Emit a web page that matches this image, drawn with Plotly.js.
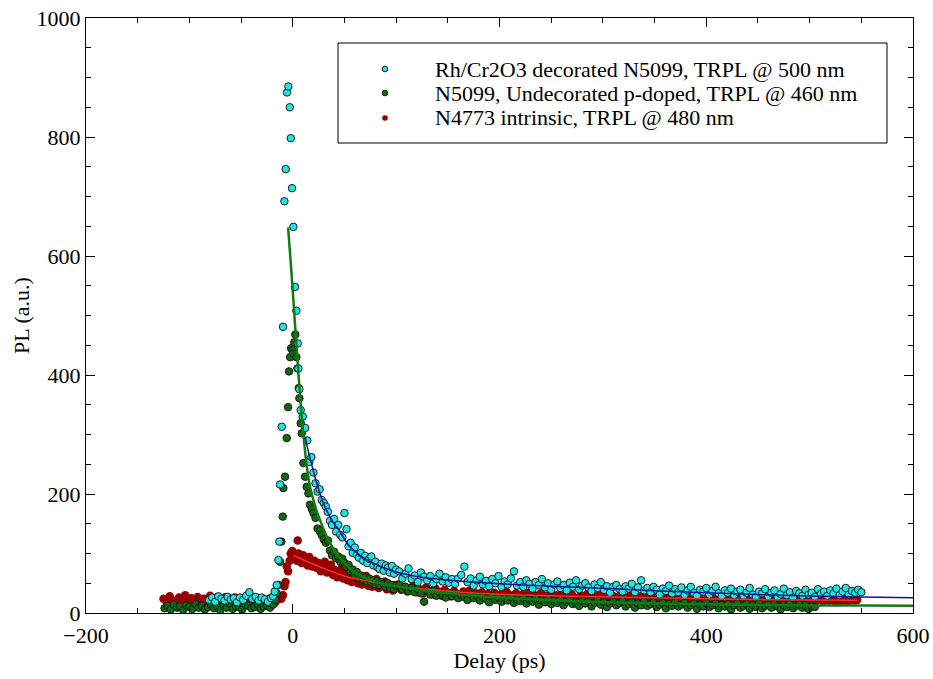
<!DOCTYPE html>
<html><head><meta charset="utf-8">
<script src="https://cdn.plot.ly/plotly-3.0.1.min.js"></script>
<style>html,body{margin:0;padding:0;background:#fff}#chart{width:933px;height:679px}</style>
</head><body><div id="chart"></div>
<script>
// Legend labels
const LABELS = [
  'Rh/Cr2O3 decorated N5099, TRPL @ 500 nm',
  'N5099, Undecorated p-doped, TRPL @ 460 nm',
  'N4773 intrinsic, TRPL @ 480 nm'
];

// Rh/Cr2O3 decorated N5099 (cyan) : [delay ps, PL]
const CYAN_PTS = [
[-81,22],[-78,26],[-75,19],[-72,28],[-69,24],[-66,21],[-63,27],[-60,23],[-57,25],[-54,18],[-51,26],[-48,22],[-45,29],[-42,35],[-39,24],[-36,27],[-33,21],[-30,26],[-27,23],[-24,19],[-21,25],
[-19,28],[-17.5,36],[-15.5,47],[-13.9,89],[-13,120],[-12.3,216],[-10.6,313],[-9.4,481],[-8.1,692],[-6.8,746],[-5.5,875],[-4.3,885],[-2.9,850],[-1.9,798],[-0.7,714],[0.6,649],[2.2,548],[3.5,508],[4.8,453],[5.4,411],[6.4,376],[7.7,341],[9.7,330],
[12,311],[14,290],[16,254],[18,262],[20,236],[22,218],[24,204],[26,208],[28,190],[30,185],[32,179],[34,170],[36,155],[38,148],[40,158],[42,137],[44,148],[46,131],[48,127],[50,168],[52,141],[54,112],[56,118],[58,101],[60,110],[62,98],[64,93],[66,101],[68,88],[70,96],[72,84],[74,91],[76,95],[78,80],[80,86],[82,77],[84,74],[86,83],[88,71],[90,80],[92,76],[94,68],[96,79],[98,66],[100,73],
[103,70],[106,58],[109,66],[112,75],[115,57],[118,63],[121,52],[124,68],[127,61],[130,55],
[133,62],[136,50],[139,57],[142,66],[145,53],[148,60],[151,51],[154,57],[157,49],[160,58],
[163,64],[166,78],[169,52],[172,58],[175,46],[178,55],[181,61],[184,48],[187,54],[190,45],
[193,57],[196,50],[199,62],[202,44],[205,53],[208,48],[211,58],[214,70],[217,46],[220,52],
[223,44],[226,55],[229,49],[232,41],[235,52],[238,47],[241,57],[244,43],[247,50],[250,39],
[253,48],[256,53],[259,42],[262,47],[265,38],[268,51],[271,44],[274,55],[277,40],[280,46],
[283,50],[286,43],[289,37],[292,48],[295,42],[298,52],[301,39],[304,45],[307,34],[310,44],
[313,47],[316,40],[319,36],[322,45],[325,41],[328,49],[331,35],[334,43],[337,55],[340,38],
[343,42],[346,35],[349,44],[352,39],[355,31],[358,41],[361,37],[364,46],[367,33],[370,40],
[373,35],[376,43],[379,30],[382,38],[385,44],[388,34],[391,29],[394,39],[397,36],[400,42],
[403,31],[406,37],[409,44],[412,33],[415,28],[418,38],[421,34],[424,41],[427,30],[430,36],
[433,39],[436,29],[439,34],[442,42],[445,31],[448,27],[451,36],[454,33],[457,40],[460,28],
[463,34],[466,38],[469,27],[472,32],[475,41],[478,30],[481,35],[484,26],[487,37],[490,33],
[493,29],[496,39],[499,31],[502,34],[505,27],[508,40],[511,32],[514,36],[517,29],[520,38],
[523,33],[526,41],[529,30],[532,36],[535,42],[538,31],[541,37],[544,34],[547,39],[550,35]
];

// N5099 undecorated p-doped (green)
const GREEN_PTS = [
[-124,8],[-121,12],[-118,6],[-115,14],[-112,9],[-109,11],[-106,5],[-103,13],[-100,10],[-97,7],[-94,15],[-91,9],[-88,12],[-85,6],[-82,10],[-79,14],[-76,8],[-73,11],[-70,5],[-67,13],[-64,9],[-61,16],[-58,7],[-55,11],[-52,10],[-49,6],[-46,14],[-43,12],[-40,8],[-37,10],[-34,15],[-31,7],[-28,11],[-25,13],[-22,9],[-19,14],
[-17,22],[-15.5,33],[-13.9,47],[-12.3,86],[-11,120],[-9.7,162],[-9.1,210],[-7.5,229],[-5.8,294],[-4.5,346],[-3.6,406],[-2.5,430],[-1.6,445],[-0.4,442],[0.6,436],[1.5,455],[2.5,468],[3.5,430],[4.5,411],[5.8,378],[6.4,361],[7.7,319],[8.7,302],[10.3,252],[11.9,229],[13.5,212],[15.1,201],[16.7,182],[18.4,175],
[20,168],[22,160],[24,142],[26,138],[28,131],[30,124],[32,118],[34,122],[36,105],[38,97],[40,103],[42,92],[44,95],[46,86],[48,91],[50,84],[52,78],[54,81],[56,70],[58,73],[60,64],[62,69],[64,59],[66,63],[68,56],[70,60],[72,53],[74,58],[76,51],[78,55],[80,48],[82,54],[84,47],[86,52],[88,49],[90,44],[92,50],[94,42],[96,47],[98,40],[100,46],
[103,47],[106,40],[109,44],[112,37],[115,42],[118,35],[121,40],[124,33],[127,19],[130,38],
[133,31],[136,37],[139,29],[142,35],[145,30],[148,26],[151,34],[154,28],[157,32],[160,25],
[163,30],[166,27],[169,22],[172,31],[175,25],[178,29],[181,21],[184,27],[187,24],[190,18],
[193,28],[196,22],[199,26],[202,19],[205,25],[208,21],[211,27],[214,17],[217,23],[220,20],
[223,25],[226,16],[229,22],[232,19],[235,24],[238,14],[241,21],[244,18],[247,23],[250,15],
[253,20],[256,17],[259,22],[262,13],[265,19],[268,21],[271,15],[274,18],[277,12],[280,20],
[283,16],[286,19],[289,11],[292,17],[295,21],[298,14],[301,18],[304,10],[307,16],[310,19],
[313,13],[316,17],[319,20],[322,11],[325,15],[328,18],[331,9],[334,16],[337,13],[340,19],
[343,12],[346,15],[349,18],[352,10],[355,14],[358,17],[361,8],[364,15],[367,12],[370,18],
[373,11],[376,14],[379,17],[382,9],[385,13],[388,16],[391,7],[394,14],[397,11],[400,17],
[403,10],[406,13],[409,16],[412,8],[415,14],[418,11],[421,15],[424,6],[427,13],[430,16],
[433,9],[436,12],[439,15],[442,7],[445,13],[448,10],[451,16],[454,8],[457,12],[460,14],
[463,9],[466,15],[469,11],[472,6],[475,13],[478,10],[481,15],[484,8],[487,12],[490,14],
[493,9],[496,13],[499,7],[502,11],[505,10]
];

// N4773 intrinsic (dark red)
const RED_PTS = [
[-125,24],[-122,19],[-119,28],[-116,21],[-113,17],[-110,26],[-107,23],[-104,30],[-101,18],[-98,25],[-95,21],[-92,27],[-89,16],[-86,24],[-83,20],[-80,29],[-77,22],[-74,18],[-71,25],[-68,21],[-65,27],[-62,19],[-59,23],[-56,26],[-53,17],[-50,24],[-47,21],[-44,28],[-41,20],[-38,23],[-35,18],[-32,25],[-29,22],[-26,19],[-23,24],[-20,21],[-17,18],[-14,23],
[-11,24],[-9.5,30],[-8,45],[-7,52],[-5.8,78],[-4.5,70],[-3,88],[-2,100],[-0.5,104],[1,92],[2.5,98],[4,88],[4.8,122],[5.5,100],[7,93],[8.5,84],[10,97],[11.5,86],[13,91],[14.5,80],[16,94],[17.5,83],[19,78],
[21,88],[23,76],[25,84],[27,70],[29,79],[31,86],[33,68],[35,75],[37,81],[39,64],[41,72],[43,60],[45,69],[47,74],[49,58],[51,66],[53,55],[55,63],[57,52],[59,61],[61,67],[63,50],[65,58],[67,48],[69,56],[71,62],[73,46],[75,54],[77,44],[79,52],[81,57],[83,42],[85,50],[87,45],[89,53],[91,40],[93,48],[95,43],[97,38],[99,47],
[102,48],[105,39],[108,44],[111,36],[114,42],[117,47],[120,35],[123,40],[126,33],[129,43],
[132,37],[135,31],[138,41],[141,35],[144,29],[147,39],[150,34],[153,28],[156,37],[159,32],
[162,27],[165,36],[168,31],[171,38],[174,26],[177,33],[180,29],[183,35],[186,25],[189,32],
[192,28],[195,34],[198,24],[201,31],[204,27],[207,35],[210,25],[213,30],[216,33],[219,24],
[222,31],[225,27],[228,34],[231,23],[234,30],[237,26],[240,33],[243,24],[246,29],[249,32],
[252,25],[255,30],[258,23],[261,33],[264,27],[267,24],[270,31],[273,26],[276,22],[279,30],
[282,27],[285,32],[288,23],[291,29],[294,25],[297,31],[300,22],[303,28],[306,26],[309,30],
[312,21],[315,27],[318,29],[321,23],[324,26],[327,30],[330,21],[333,25],[336,28],[339,22],
[342,27],[345,24],[348,29],[351,20],[354,26],[357,23],[360,28],[363,21],[366,25],[369,27],
[372,20],[375,26],[378,23],[381,28],[384,19],[387,25],[390,22],[393,27],[396,20],[399,24],
[402,26],[405,19],[408,24],[411,21],[414,27],[417,18],[420,23],[423,25],[426,20],[429,26],
[432,21],[435,24],[438,18],[441,25],[444,22],[447,19],[450,26],[453,21],[456,23],[459,18],
[462,24],[465,21],[468,26],[471,19],[474,23],[477,20],[480,25],[483,18],[486,22],[489,24],
[492,19],[495,23],[498,21],[501,26],[504,18],[507,22],[510,24],[513,19],[516,23],[519,21],
[522,25],[525,18],[528,22],[531,20],[534,24],[537,19],[540,23],[543,21],[546,22]
];

// Fit curves
const BLUE_FIT_X = [12,15,18,21,25,30,35,40,45,50,55,60,65,70,80,90,100,110,120,135,150,175,200,250,300,350,400,450,500,550,600];
const BLUE_FIT_Y = [296,272,252,232,208,183,165,150,139,124,112,104,97,91,82,75,69,65,61.5,58,55.5,52,49,45,41.5,37.5,34,31,28.5,27,25.8];
const GREEN_FIT_X = [-4.5,-2,0.6,2.2,3.9,6,8.7,10.3,13.5,16.7,20,23,26.4,30,33,39.3,46,55.4,63,71.6,85,104,125,152,200,250,300,350,400,450,505,550,600];
const GREEN_FIT_Y = [648,590,526,485,445,390,330,300,248,212,190,172,156,140,128,108,92,74,64,58,50,44,38,33,26,21.5,18,16,14.5,13.5,12.8,12.5,12.3];
const RED_FIT_X = [0.6,4,7,12,20,30,39,52,62,72,85,104,117,142,175,214,250,290,350,400,449,500,546];
const RED_FIT_Y = [97,94,92,88,82,75,69,61,57.5,54,49.5,44,41.5,38,33.5,30.5,29,27.5,25.5,24,22.5,22,21.5];

const X_TICKS = [-200,0,200,400,600];
const Y_TICKS = [0,200,400,600,800,1000];

const FONT = 'Liberation Serif, Times New Roman, Times, serif';
const COL = {cyan:'#1ee6e6', green:'#0f6b0f', red:'#960000', outline:'#1a1a1a',
             blueLine:'#1414a0', greenLine:'#147a14', redLine:'#ff2a2a'};

const xs = p => p.map(d => d[0]);
const ys = p => p.map(d => d[1]);

const traces = [
  {type:'scatter', mode:'markers', name:LABELS[2], x:xs(RED_PTS), y:ys(RED_PTS),
   marker:{color:COL.red, size:8.5, line:{width:0}}},
  {type:'scatter', mode:'markers', name:LABELS[1], x:xs(GREEN_PTS), y:ys(GREEN_PTS),
   marker:{color:COL.green, size:7.5, line:{width:1, color:COL.outline}}},
  {type:'scatter', mode:'markers', name:LABELS[0], x:xs(CYAN_PTS), y:ys(CYAN_PTS),
   marker:{color:COL.cyan, size:7.5, line:{width:1, color:COL.outline}}},
  {type:'scatter', mode:'lines', x:RED_FIT_X, y:RED_FIT_Y, line:{color:COL.redLine, width:1.5, shape:'spline'}},
  {type:'scatter', mode:'lines', x:GREEN_FIT_X, y:GREEN_FIT_Y, line:{color:COL.greenLine, width:2.5, shape:'spline'}},
  {type:'scatter', mode:'lines', x:BLUE_FIT_X, y:BLUE_FIT_Y, line:{color:COL.blueLine, width:1.5, shape:'spline'}}
];

// legend geometry in plot pixels -> paper coords
const PL = 86, PW = 827, PT = 18, PH = 595;
const px2x = p => (p - PL) / PW;
const py2y = p => (PT + PH - p) / PH;
const rowsY = [69, 93, 118];
const markerX = 385, textX = 433;
const legendColors = [COL.cyan, COL.green, COL.red];

const shapes = [{type:'rect', xref:'paper', yref:'paper', x0:px2x(338), x1:px2x(887), y0:py2y(143), y1:py2y(43),
  line:{color:'#000', width:1}, fillcolor:'#fff', layer:'above'}];
const annotations = [];
LABELS.forEach((t, i) => {
  shapes.push({type:'circle', xref:'paper', yref:'paper', xsizemode:'pixel', ysizemode:'pixel',
    xanchor:px2x(markerX), yanchor:py2y(rowsY[i]), x0:-2.8, x1:2.8, y0:-2.8, y1:2.8,
    fillcolor:legendColors[i], line:{color: i===2 ? legendColors[i] : COL.outline, width: i===2 ? 0 : 1}, layer:'above'});
  annotations.push({xref:'paper', yref:'paper', x:px2x(textX), y:py2y(rowsY[i]), xanchor:'left', yanchor:'middle',
    text:t, showarrow:false, font:{family:FONT, size:22, color:'#000'}});
});

const axisCommon = {ticks:'inside', ticklen:9, tickwidth:1, tickcolor:'#000', showline:true, linecolor:'#000', linewidth:1,
  mirror:'ticks', showgrid:false, zeroline:false, tickfont:{family:FONT, size:22, color:'#000'},
  minor:{dtick:50, ticks:'inside', ticklen:5, tickwidth:1, tickcolor:'#000', showgrid:false}};

const layout = {
  width:933, height:679, margin:{l:PL, r:933-PL-PW, t:PT, b:679-PT-PH},
  paper_bgcolor:'#fff', plot_bgcolor:'#fff', showlegend:false,
  font:{family:FONT, size:22, color:'#000'},
  xaxis:Object.assign({}, axisCommon, {range:[-200,600], tickvals:X_TICKS, ticklabelstandoff:3,
    title:{text:'Delay (ps)', standoff:4, font:{family:FONT, size:22, color:'#000'}}}),
  yaxis:Object.assign({}, axisCommon, {range:[0,1000], tickvals:Y_TICKS,
    title:{text:'PL (a.u.)', standoff:0, font:{family:FONT, size:22, color:'#000'}}}),
  shapes:shapes, annotations:annotations
};

Plotly.newPlot('chart', traces, layout, {staticPlot:true, displayModeBar:false});
</script>
</body></html>
